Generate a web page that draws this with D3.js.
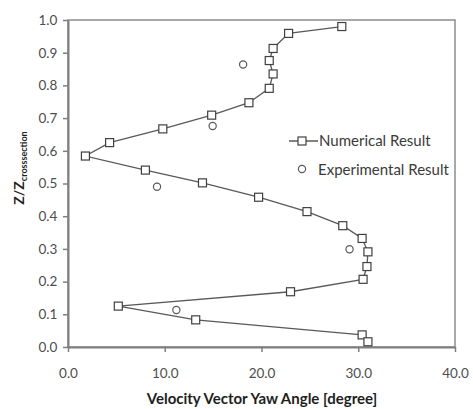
<!DOCTYPE html>
<html><head><meta charset="utf-8">
<script src="https://cdn.jsdelivr.net/npm/d3@7"></script>
<style>body{margin:0;background:#fff;} text{font-family:Lato,"Open Sans",sans-serif;}</style>
</head><body>
<svg id="c" width="473" height="409"></svg>
<script>
const numX = [28.3,22.8,21.2,20.8,21.2,20.8,18.7,14.85,9.8,4.3,1.8,8.0,13.9,19.7,24.7,28.4,30.4,31.0,30.9,30.5,23.0,5.2,13.2,30.4,31.0];
const numY = [0.980,0.959,0.913,0.876,0.835,0.791,0.747,0.709,0.667,0.625,0.584,0.541,0.502,0.458,0.414,0.371,0.332,0.291,0.246,0.207,0.169,0.125,0.083,0.037,0.016];
const expX = [18.1,14.95,9.2,29.1,11.2];
const expY = [0.864,0.676,0.490,0.299,0.113];
const xTicks = [0,10,20,30,40];
const yTicks = [0,0.1,0.2,0.3,0.4,0.5,0.6,0.7,0.8,0.9,1.0];
const seriesNames = ["Numerical Result","Experimental Result"];

const svg = d3.select("#c");
const L=68,R=455,T=20,B=347;
const x = d3.scaleLinear().domain([0,40]).range([L,R]);
const y = d3.scaleLinear().domain([0,1]).range([B,T]);

svg.append("rect").attr("x",L).attr("y",T).attr("width",R-L).attr("height",B-T)
  .attr("fill","none").attr("stroke","#8c8c8c").attr("stroke-width",1.5);

const xa = svg.append("g").attr("transform",`translate(0,${B})`)
  .call(d3.axisBottom(x).tickValues(xTicks).tickFormat(d3.format(".1f")).tickSize(5).tickSizeOuter(0));
const ya = svg.append("g").attr("transform",`translate(${L},0)`)
  .call(d3.axisLeft(y).tickValues(yTicks).tickFormat(d3.format(".1f")).tickSize(5).tickSizeOuter(0));
[xa,ya].forEach(a=>{
  a.select(".domain").attr("stroke","#7f7f7f").attr("stroke-width",2);
  a.selectAll(".tick line").attr("stroke","#7f7f7f").attr("stroke-width",1.5);
  a.selectAll("text").attr("fill","#4d4d4d").attr("font-size",13.5).attr("font-family","Lato, sans-serif");
});
xa.selectAll("text").attr("y",0).attr("dy","31px");
ya.selectAll("text").attr("dx","-0.2em");

const pts = numX.map((v,i)=>[v,numY[i]]);
svg.append("path").datum(pts)
  .attr("d",d3.line().x(d=>x(d[0])).y(d=>y(d[1])))
  .attr("fill","none").attr("stroke","#595959").attr("stroke-width",1.3);
svg.selectAll(".sq").data(pts).join("rect")
  .attr("x",d=>x(d[0])-4).attr("y",d=>y(d[1])-4).attr("width",8).attr("height",8)
  .attr("fill","#fff").attr("stroke","#404040").attr("stroke-width",1.2);
svg.selectAll(".ci").data(expX.map((v,i)=>[v,expY[i]])).join("circle")
  .attr("cx",d=>x(d[0])).attr("cy",d=>y(d[1])).attr("r",3.6)
  .attr("fill","#fff").attr("stroke","#595959").attr("stroke-width",1.2);

const lg = svg.append("g");
lg.append("line").attr("x1",289).attr("x2",318).attr("y1",141).attr("y2",141).attr("stroke","#404040").attr("stroke-width",1.3);
lg.append("rect").attr("x",298).attr("y",137).attr("width",8).attr("height",8).attr("fill","#fff").attr("stroke","#404040").attr("stroke-width",1.2);
lg.append("circle").attr("cx",302).attr("cy",169).attr("r",3.6).attr("fill","#fff").attr("stroke","#595959").attr("stroke-width",1.2);
lg.selectAll("text.l").data(seriesNames).join("text")
  .attr("x",(d,i)=>i?318:319).attr("y",(d,i)=>i?174.5:146)
  .attr("font-size",15).attr("fill","#3a3a3a").text(d=>d);

svg.append("text").attr("x",262).attr("y",404).attr("text-anchor","middle")
  .attr("font-size",15).attr("font-weight","bold").attr("fill","#1e1e1e")
  .text("Velocity Vector Yaw Angle [degree]");
const yt = svg.append("text").attr("transform","translate(24,168) rotate(-90)")
  .attr("text-anchor","middle").attr("font-size",14).attr("font-weight","bold").attr("fill","#1e1e1e");
yt.append("tspan").text("Z/Z");
yt.append("tspan").attr("font-size",9).attr("dy",3).text("crosssection");
</script>
</body></html>
